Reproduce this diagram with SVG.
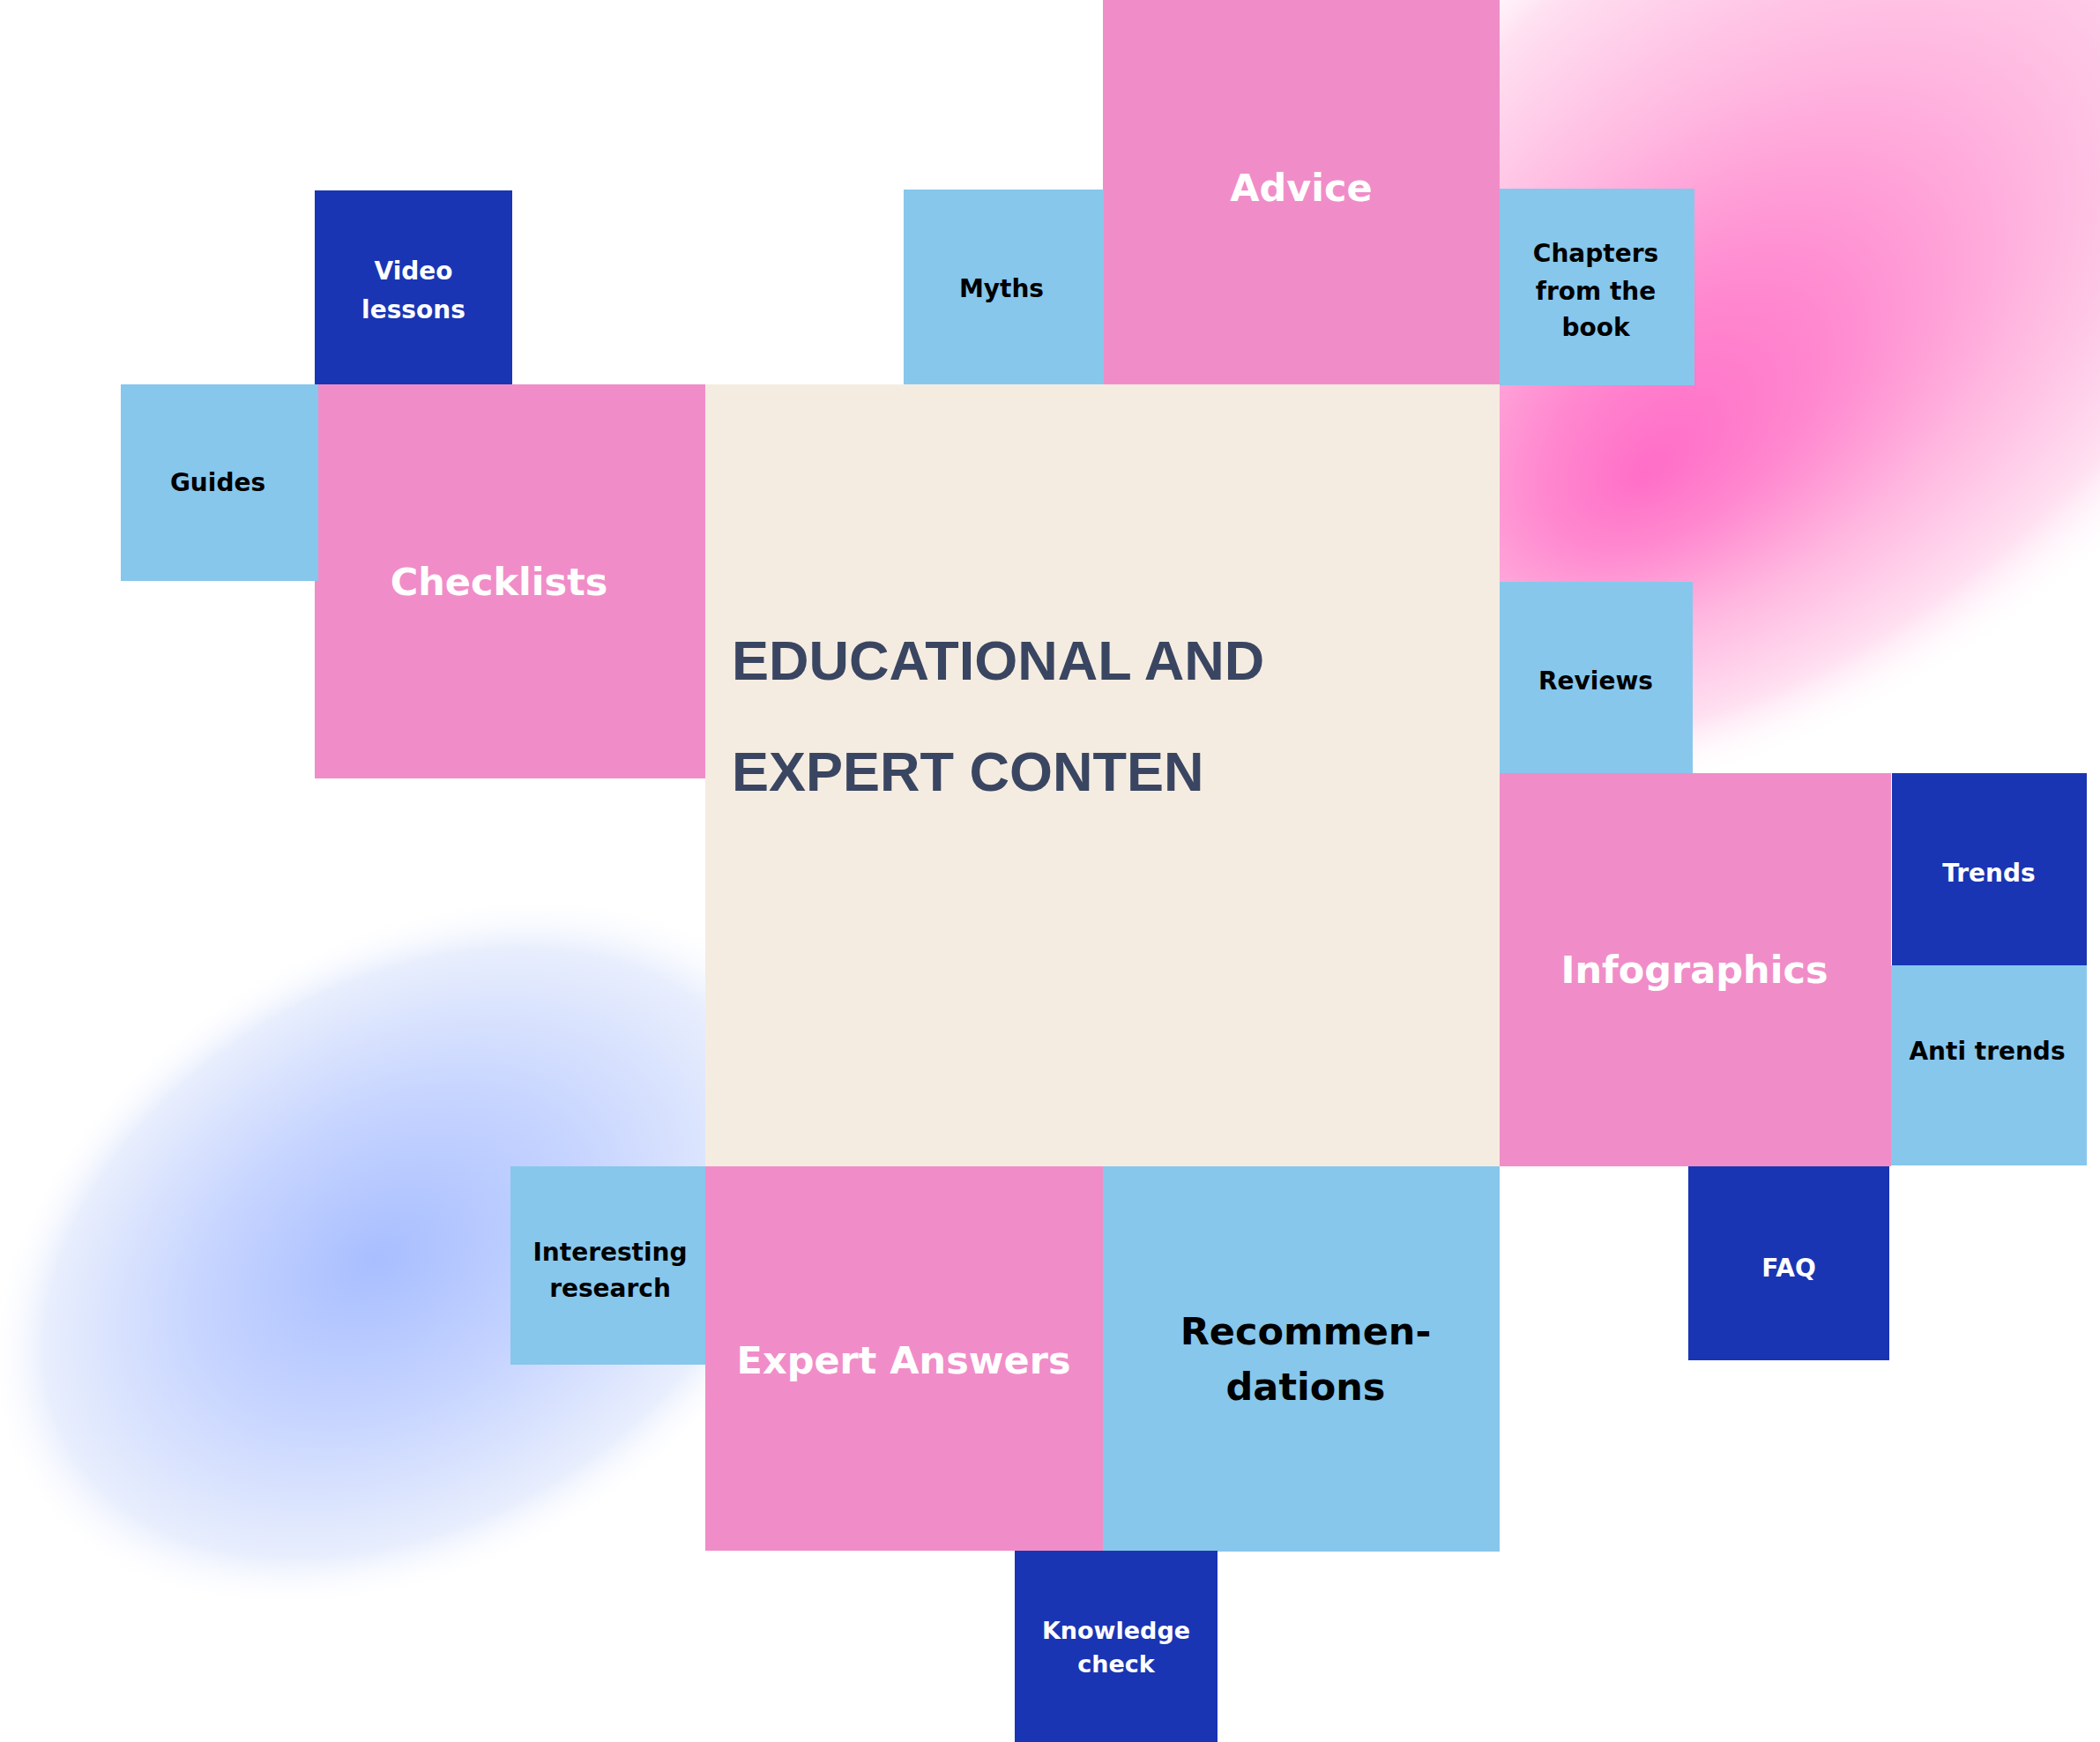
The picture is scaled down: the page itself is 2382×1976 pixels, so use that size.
<svg xmlns="http://www.w3.org/2000/svg" width="2382" height="1976" viewBox="0 0 2382 1976">
  <defs>
    <style>
      .pink { fill: #F08DC8; }
      .sky { fill: #87C7EC; }
      .navy { fill: #1A35B3; }
      .core { fill: #F5ECE1; }
      .lbl { font-family: "DejaVu Sans", "Liberation Sans", sans-serif; font-weight: 700; text-anchor: middle; }
      .sm { font-size: 28px; }
      .lg { font-size: 43px; }
      .w { fill: #FFFFFF; }
      .k { fill: #000000; }
      .title { font-family: "Liberation Sans", Arial, sans-serif; font-weight: 700; font-size: 63px; fill: #3A4661; }
    </style>
    <radialGradient id="glowPink" cx="0.5" cy="0.5" r="0.5" fx="0.305" fy="0.595">
      <stop offset="0" stop-color="#FF6EC7"/>
      <stop offset="0.22" stop-color="#FF88CF"/>
      <stop offset="0.5" stop-color="#FFB8E0"/>
      <stop offset="0.8" stop-color="#FFE0F1"/>
      <stop offset="1" stop-color="#FFFFFF" stop-opacity="0"/>
    </radialGradient>
    <radialGradient id="glowBlue" cx="0.5" cy="0.5" r="0.5" fx="0.46" fy="0.48">
      <stop offset="0" stop-color="#A8BEFF"/>
      <stop offset="0.45" stop-color="#C6D4FF"/>
      <stop offset="0.85" stop-color="#E8EEFD"/>
      <stop offset="1" stop-color="#FFFFFF" stop-opacity="0"/>
    </radialGradient>
  </defs>

  <rect width="2382" height="1976" fill="#FFFFFF"/>

  <!-- soft background glows -->
  <g id="glows">
    <ellipse transform="translate(2058,253) rotate(-40)" cx="0" cy="0" rx="850" ry="500" fill="url(#glowPink)"/>
    <ellipse transform="translate(470,1420) rotate(-30)" cx="0" cy="0" rx="520" ry="360" fill="url(#glowBlue)"/>
  </g>

  <g id="node-core">
    <rect class="core" x="800" y="436" width="901" height="887"/>
    <text class="title" x="830" y="771">EDUCATIONAL AND</text>
    <text class="title" x="830" y="897">EXPERT CONTEN</text>
  </g>

  <g id="node-advice">
    <rect class="pink" x="1251" y="0" width="450" height="436"/>
    <text class="lbl lg w" x="1476" y="228">Advice</text>
  </g>

  <g id="node-myths">
    <rect class="sky" x="1025" y="215" width="227" height="221"/>
    <text class="lbl sm k" x="1136" y="337">Myths</text>
  </g>

  <g id="node-chapters">
    <rect class="sky" x="1701" y="214" width="221" height="223"/>
    <text class="lbl sm k" x="1810" y="297">Chapters</text>
    <text class="lbl sm k" x="1810" y="340">from the</text>
    <text class="lbl sm k" x="1810" y="381">book</text>
  </g>

  <g id="node-checklists">
    <rect class="pink" x="357" y="436" width="443" height="447"/>
    <text class="lbl lg w" x="566" y="675">Checklists</text>
  </g>

  <g id="node-video">
    <rect class="navy" x="357" y="216" width="224" height="220"/>
    <text class="lbl sm w" x="469" y="317">Video</text>
    <text class="lbl sm w" x="469" y="361">lessons</text>
  </g>

  <g id="node-guides">
    <rect class="sky" x="137" y="436" width="224" height="223"/>
    <text class="lbl sm k" x="247" y="557">Guides</text>
  </g>

  <g id="node-reviews">
    <rect class="sky" x="1701" y="660" width="219" height="217"/>
    <text class="lbl sm k" x="1810" y="782">Reviews</text>
  </g>

  <g id="node-infographics">
    <rect class="pink" x="1701" y="877" width="444" height="446"/>
    <text class="lbl lg w" x="1922" y="1115">Infographics</text>
  </g>

  <g id="node-trends">
    <rect class="navy" x="2146" y="877" width="221" height="218"/>
    <text class="lbl sm w" x="2256" y="1000">Trends</text>
  </g>

  <g id="node-antitrends">
    <rect class="sky" x="2145" y="1095" width="222" height="227"/>
    <text class="lbl sm k" x="2254" y="1202">Anti trends</text>
  </g>

  <g id="node-faq">
    <rect class="navy" x="1915" y="1323" width="228" height="220"/>
    <text class="lbl sm w" x="2029" y="1448">FAQ</text>
  </g>

  <g id="node-research">
    <rect class="sky" x="579" y="1323" width="222" height="225"/>
    <text class="lbl sm k" x="692" y="1430">Interesting</text>
    <text class="lbl sm k" x="692" y="1471">research</text>
  </g>

  <g id="node-expert">
    <rect class="pink" x="800" y="1323" width="451" height="436"/>
    <text class="lbl lg w" x="1025" y="1558">Expert Answers</text>
  </g>

  <g id="node-recommendations">
    <rect class="sky" x="1251" y="1323" width="450" height="437"/>
    <text class="lbl lg k" x="1481" y="1525">Recommen-</text>
    <text class="lbl lg k" x="1481" y="1588">dations</text>
  </g>

  <g id="node-knowledge">
    <rect class="navy" x="1151" y="1759" width="230" height="217"/>
    <text class="lbl w" font-size="27" x="1266" y="1859">Knowledge</text>
    <text class="lbl w" font-size="27" x="1266" y="1897">check</text>
  </g>
</svg>
